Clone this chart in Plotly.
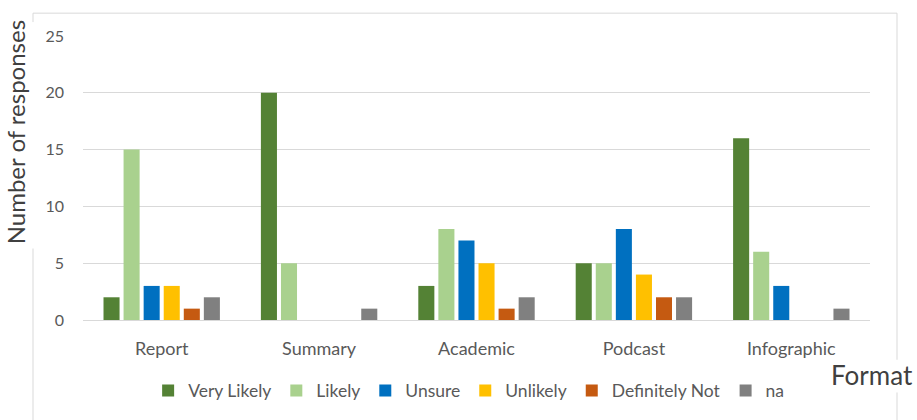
import plotly.graph_objects as go

categories = ["Report", "Summary", "Academic", "Podcast", "Infographic"]
very_likely = [2, 20, 3, 5, 16]
likely = [15, 5, 8, 5, 6]
unsure = [3, 0, 7, 8, 3]
unlikely = [3, 0, 5, 4, 0]
definitely_not = [1, 0, 1, 2, 0]
na = [2, 1, 2, 2, 1]

series = [
    ("Very Likely", very_likely, "#548235"),
    ("Likely", likely, "#A9D18E"),
    ("Unsure", unsure, "#0070C0"),
    ("Unlikely", unlikely, "#FFC000"),
    ("Definitely Not", definitely_not, "#C55A11"),
    ("na", na, "#808080"),
]

FONT = "Lato"
fig = go.Figure()
for name, vals, col in series:
    fig.add_trace(go.Bar(x=categories, y=vals, name=name, marker=dict(color=col, line=dict(width=0))))

L, R, T, B = 83, 47, 36, 98
W, H = 917, 420
pw, ph = W - L - R, H - T - B

def px(x):
    return (x - L) / pw

def py(y):
    return (H - B - y) / ph

border = "#d9d9d9"
shapes = [
    dict(type="line", xref="paper", yref="paper", x0=px(33), x1=px(897), y0=py(13), y1=py(13), line=dict(color=border, width=1)),
    dict(type="line", xref="paper", yref="paper", x0=px(33), x1=px(33), y0=py(13), y1=py(22), line=dict(color=border, width=1)),
    dict(type="line", xref="paper", yref="paper", x0=px(33), x1=px(33), y0=py(250), y1=py(425), line=dict(color=border, width=1)),
    dict(type="line", xref="paper", yref="paper", x0=px(897), x1=px(897), y0=py(13), y1=py(362), line=dict(color=border, width=1)),
    dict(type="line", xref="paper", yref="paper", x0=px(897), x1=px(897), y0=py(395), y1=py(425), line=dict(color=border, width=1)),
]

fig.update_layout(
    width=W, height=H,
    margin=dict(l=L, r=R, t=T, b=B, pad=0),
    paper_bgcolor="white", plot_bgcolor="white",
    barmode="group", bargap=0.235, bargroupgap=0.2,
    font=dict(family=FONT, color="#595959", size=16),
    showlegend=True,
    legend=dict(orientation="h", x=0.49, xanchor="center", y=py(393), yanchor="middle",
                font=dict(family=FONT, size=17.5, color="#595959"), traceorder="normal",
                itemwidth=30, tracegroupgap=0),
    xaxis=dict(showgrid=False, showline=True, linecolor="#d9d9d9", linewidth=1, ticks="",
               tickfont=dict(family=FONT, size=18, color="#595959"), ticklabelstandoff=12),
    yaxis=dict(range=[0, 25], dtick=5, showgrid=True, gridcolor="#d9d9d9", gridwidth=1,
               zeroline=False, showline=False, ticks="",
               tickfont=dict(family=FONT, size=16, color="#595959"), ticklabelstandoff=18),
    shapes=shapes,
    annotations=[
        dict(text="Number of responses", xref="paper", yref="paper", x=px(15), y=py(133),
             xanchor="center", yanchor="middle", textangle=-90, showarrow=False,
             font=dict(family=FONT, size=24, color="#404040"), bgcolor="white"),
        dict(text="Format", xref="paper", yref="paper", x=px(872), y=py(377),
             xanchor="center", yanchor="middle", showarrow=False,
             font=dict(family=FONT, size=26, color="#404040")),
    ],
)

fig.write_html("out.html")
